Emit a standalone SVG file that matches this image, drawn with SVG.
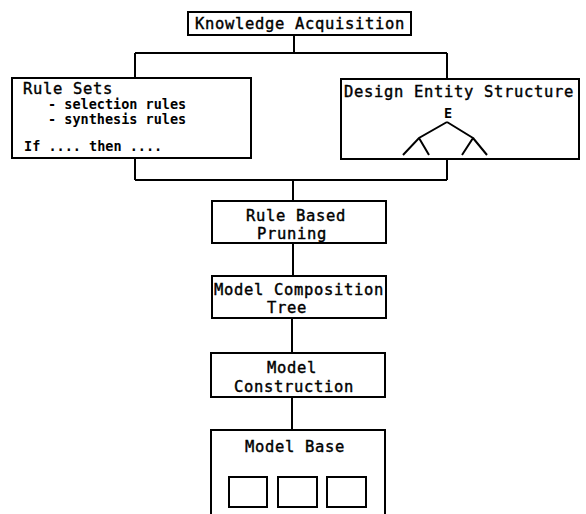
<svg xmlns="http://www.w3.org/2000/svg" width="586" height="514" viewBox="0 0 586 514">
<style>
.box{fill:#fff;stroke:#000;stroke-width:2}
.ln{fill:none;stroke:#000;stroke-width:2}
.t{font-family:"DejaVu Sans Mono","Liberation Mono",monospace;font-size:15.5px;letter-spacing:0.67px;fill:#000;stroke:#000;stroke-width:0.4}
.c{text-anchor:middle}
.s{font-family:"DejaVu Sans Mono","Liberation Mono",monospace;font-size:13.5px;font-weight:bold;fill:#000}
</style>
<rect width="586" height="514" fill="#fff"/>
<g id="connectors">
<path class="ln" d="M294 35V53M135 53H447M135 53V78M447 53V79"/>
<path class="ln" d="M135 158V180M447 159V180M135 180H447M293 180V201"/>
<path class="ln" d="M293 243V276M292 318V353M292 397V430"/>
</g>
<g id="knowledge-acquisition">
<rect class="box" x="188" y="12" width="223" height="23"/>
<text class="t c" x="300" y="29">Knowledge Acquisition</text>
</g>
<g id="rule-sets">
<rect class="box" x="12" y="78" width="239" height="80"/>
<text class="t" x="23" y="94">Rule Sets</text>
<text class="s" x="48" y="109">- selection rules</text>
<text class="s" x="48" y="124">- synthesis rules</text>
<text class="s" x="24" y="151">If .... then ....</text>
</g>
<g id="design-entity-structure">
<rect class="box" x="341" y="79" width="238" height="80"/>
<text class="t" x="344" y="97">Design Entity Structure</text>
<text class="s c" x="448" y="118">E</text>
<path class="ln" d="M447 122L419 138L403 155M419 138L429 155M447 122L473 138L462 155M473 138L487 155"/>
</g>
<g id="rule-based-pruning">
<rect class="box" x="212" y="201" width="174" height="42"/>
<text class="t c" x="296" y="221">Rule Based</text>
<text class="t c" x="292" y="239">Pruning</text>
</g>
<g id="model-composition-tree">
<rect class="box" x="212" y="276" width="174" height="42"/>
<text class="t c" x="299" y="295">Model Composition</text>
<text class="t c" x="287" y="313">Tree</text>
</g>
<g id="model-construction">
<rect class="box" x="211" y="353" width="174" height="44"/>
<text class="t c" x="292" y="373">Model</text>
<text class="t c" x="294" y="392">Construction</text>
</g>
<g id="model-base">
<path class="ln" d="M211 520V430H385V520"/>
<text class="t c" x="295" y="452">Model Base</text>
<rect class="box" x="229" y="477" width="38" height="30"/>
<rect class="box" x="278" y="477" width="39" height="30"/>
<rect class="box" x="327" y="477" width="39" height="30"/>
</g>
</svg>
